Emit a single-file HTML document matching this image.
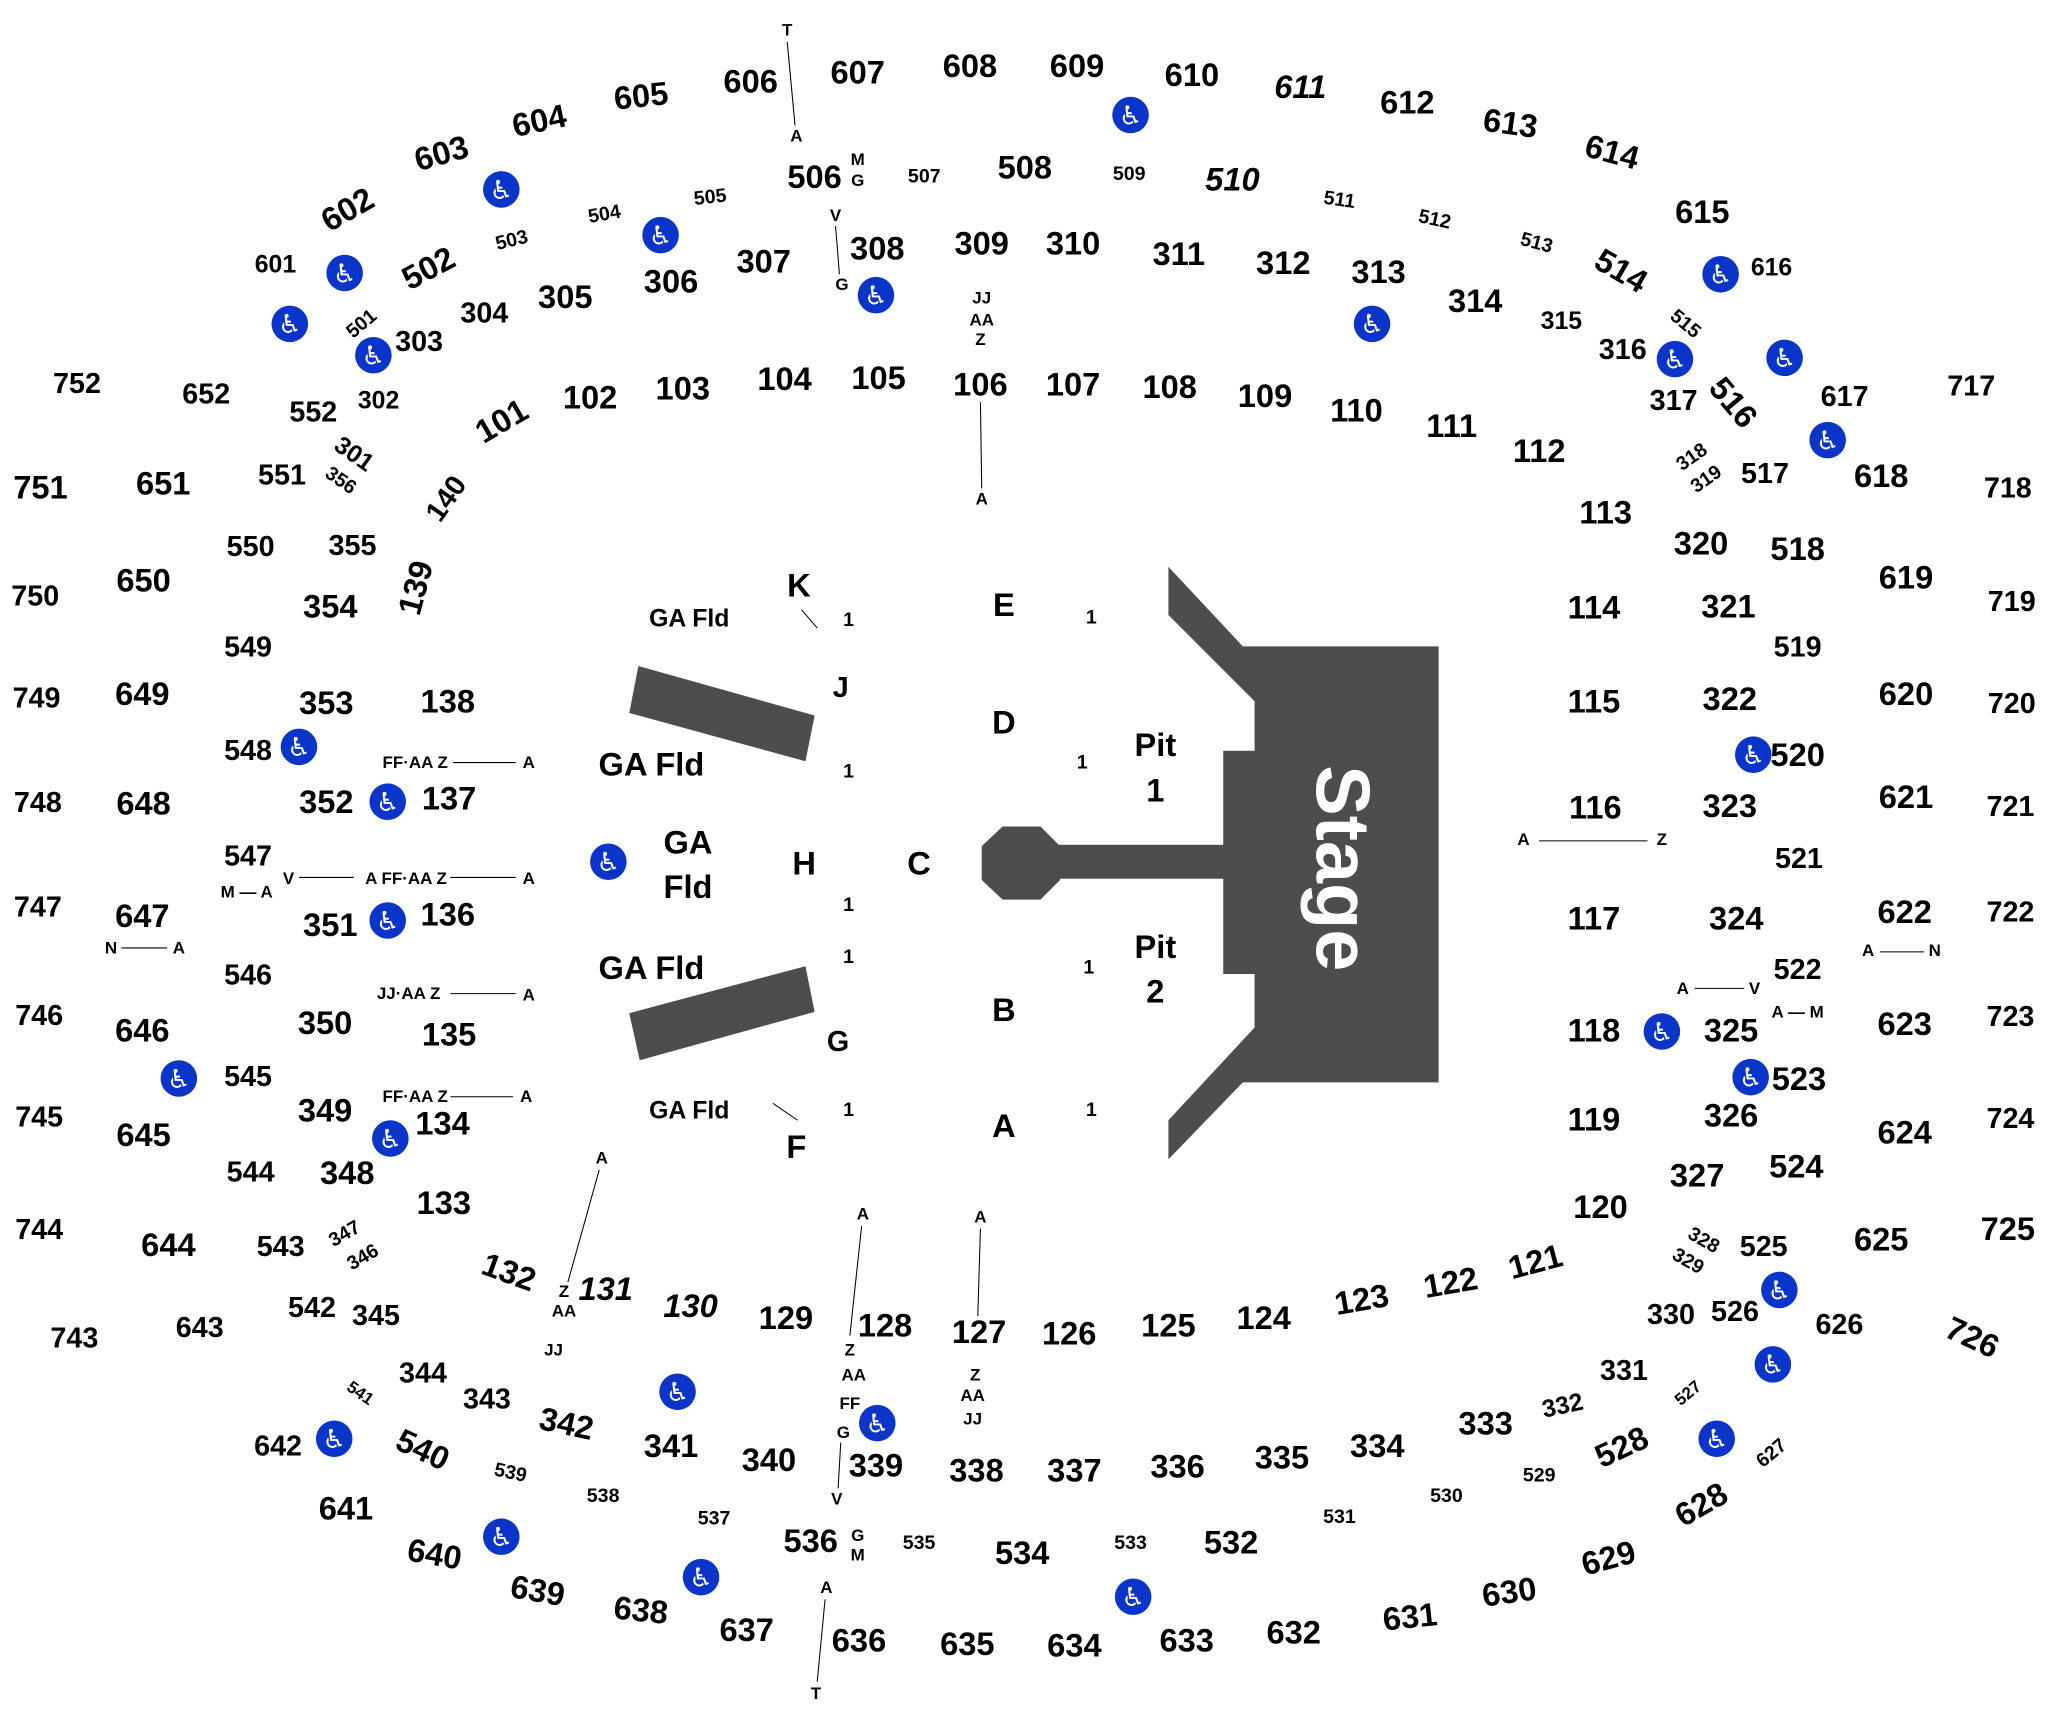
<!DOCTYPE html>
<html><head><meta charset="utf-8"><style>
html,body{margin:0;padding:0;background:#fff}
svg{display:block}
text{font-family:"Liberation Sans",Arial,sans-serif;font-weight:bold;fill:#000;text-anchor:middle;dominant-baseline:central}
.b{font-size:25px}.m{font-size:22px}.s{font-size:19px}.xs{font-size:15px}.t{font-size:13px}
.w circle{fill:#0a35c8}.w text{fill:#fff;font-size:20px;font-weight:normal;font-family:"DejaVu Sans",sans-serif}
line{stroke:#000;stroke-width:0.8}
</style></head><body>
<svg width="2047" height="1717" viewBox="0 0 1568 1315" xmlns="http://www.w3.org/2000/svg">
<defs><g id="wc"><circle r="14" fill="#0a35c8"/><text x="0" y="1" style="fill:#fff;font-size:20px;font-weight:normal;font-family:'DejaVu Sans',sans-serif">♿</text></g></defs>
<!-- stage -->
<polygon fill="#4d4d4d" points="895,434 952,495 1102,495 1102,829 952,829 895,888 895,858 961,787 961,746 937,746 937,575 961,575 961,537 895,471"/>
<rect x="805" y="647" width="135" height="26" fill="#4d4d4d"/>
<polygon fill="#4d4d4d" points="768,633 797,633 812,648 812,674 797,689 768,689 752,674 752,648"/>
<text x="1028" y="665" transform="rotate(90 1028 665)" style="font-size:58px;fill:#fff">Stage</text>
<polygon fill="#4d4d4d" points="489,510 624,548 617,583 482,546"/>
<polygon fill="#4d4d4d" points="482,776 617,740 624,775 490,812"/>
<!-- floor -->
<text class="b" x="612" y="448">K</text><text class="xs" x="650" y="475">1</text><line x1="614" y1="467" x2="626" y2="481"/>
<text class="b" x="769" y="463">E</text><text class="xs" x="836" y="473">1</text>
<text class="s" x="528" y="474">GA Fld</text>
<text class="m" x="644" y="527">J</text>
<text class="b" x="769" y="553">D</text><text class="xs" x="829" y="584">1</text>
<text class="b" x="885" y="570">Pit</text><text class="b" x="885" y="605">1</text>
<text class="b" x="499" y="585">GA Fld</text><text class="xs" x="650" y="591">1</text>
<text class="b" x="527" y="645">GA</text><text class="b" x="527" y="679">Fld</text>
<text class="b" x="616" y="661">H</text><text class="b" x="704" y="661">C</text>
<text class="xs" x="650" y="693">1</text><text class="xs" x="650" y="733">1</text>
<text class="b" x="885" y="725">Pit</text><text class="b" x="885" y="759">2</text><text class="xs" x="834" y="741">1</text>
<text class="b" x="499" y="741">GA Fld</text>
<text class="b" x="769" y="773">B</text><text class="m" x="642" y="798">G</text>
<text class="s" x="528" y="851">GA Fld</text><line x1="592" y1="845" x2="611" y2="858"/>
<text class="xs" x="650" y="850">1</text><text class="b" x="769" y="862">A</text><text class="xs" x="836" y="850">1</text>
<text class="b" x="610" y="878">F</text>
<!-- wheelchairs -->
<use href="#wc" x="866" y="88"/><use href="#wc" x="384" y="145"/><use href="#wc" x="506" y="180"/><use href="#wc" x="264" y="209"/>
<use href="#wc" x="222" y="248"/><use href="#wc" x="286" y="272"/><use href="#wc" x="671" y="226"/><use href="#wc" x="1051" y="248"/>
<use href="#wc" x="1318" y="210"/><use href="#wc" x="1283" y="275"/><use href="#wc" x="1367" y="274"/><use href="#wc" x="1400" y="337"/>
<use href="#wc" x="229" y="572"/><use href="#wc" x="297" y="614"/><use href="#wc" x="466" y="660"/><use href="#wc" x="297" y="705"/>
<use href="#wc" x="137" y="826"/><use href="#wc" x="299" y="872"/><use href="#wc" x="1343" y="578"/><use href="#wc" x="1273" y="790"/>
<use href="#wc" x="1341" y="825"/><use href="#wc" x="1363" y="988"/><use href="#wc" x="1358" y="1045"/><use href="#wc" x="1315" y="1102"/>
<use href="#wc" x="519" y="1066"/><use href="#wc" x="672" y="1090"/><use href="#wc" x="256" y="1102"/><use href="#wc" x="384" y="1177"/>
<use href="#wc" x="537" y="1208"/><use href="#wc" x="868" y="1223"/>
<!-- top rows -->
<text class="t" x="603" y="23">T</text><line x1="603" y1="32" x2="609" y2="96"/><text class="t" x="610" y="104">A</text>
<text class="b" x="575" y="62">606</text><text class="b" x="657" y="55">607</text><text class="b" x="743" y="50">608</text><text class="b" x="825" y="50">609</text>
<text class="b" x="913" y="57">610</text><text class="b" x="996" y="66" font-style="italic">611</text><text class="b" x="1078" y="78">612</text><text class="b" x="1157" y="94" transform="rotate(8 1157 94)">613</text>
<text class="b" x="1235" y="116" transform="rotate(15 1235 116)">614</text><text class="b" x="1304" y="162">615</text><text class="s" x="1357" y="205">616</text>
<text class="b" x="491" y="73" transform="rotate(-6 491 73)">605</text><text class="b" x="413" y="92" transform="rotate(-12 413 92)">604</text><text class="b" x="338" y="117" transform="rotate(-16 338 117)">603</text>
<text class="b" x="266" y="160" transform="rotate(-30 266 160)">602</text><text class="s" x="211" y="203">601</text>
<text class="b" x="624" y="135">506</text><text class="t" x="657" y="122">M</text><text class="t" x="657" y="138">G</text><text class="xs" x="708" y="135">507</text>
<text class="b" x="785" y="128">508</text><text class="xs" x="865" y="133">509</text><text class="b" x="944" y="137" font-style="italic">510</text>
<text class="xs" x="1026" y="153" transform="rotate(8 1026 153)">511</text><text class="xs" x="1099" y="168" transform="rotate(12 1099 168)">512</text><text class="xs" x="1177" y="186" transform="rotate(15 1177 186)">513</text>
<text class="b" x="1242" y="207" transform="rotate(30 1242 207)">514</text><text class="xs" x="1291" y="248" transform="rotate(40 1291 248)">515</text>
<text class="b" x="1328" y="308" transform="rotate(50 1328 308)">516</text><text class="m" x="1413" y="304">617</text><text class="b" x="1441" y="364">618</text>
<text class="m" x="1510" y="296">717</text><text class="m" x="1538" y="374">718</text>
<text class="xs" x="544" y="151" transform="rotate(-6 544 151)">505</text><text class="xs" x="463" y="164" transform="rotate(-10 463 164)">504</text><text class="xs" x="392" y="184" transform="rotate(-14 392 184)">503</text>
<text class="b" x="328" y="205" transform="rotate(-28 328 205)">502</text><text class="xs" x="277" y="248" transform="rotate(-40 277 248)">501</text>
<text class="t" x="640" y="165">V</text><line x1="640" y1="173" x2="643" y2="210"/><text class="t" x="645" y="218">G</text>
<text class="b" x="672" y="190">308</text><text class="b" x="752" y="186">309</text><text class="b" x="822" y="186">310</text><text class="b" x="903" y="194">311</text>
<text class="b" x="983" y="201">312</text><text class="b" x="1056" y="208">313</text><text class="b" x="1130" y="230">314</text><text class="s" x="1196" y="246">315</text>
<text class="m" x="1243" y="268">316</text><text class="m" x="1282" y="307">317</text>
<text class="b" x="585" y="200">307</text><text class="b" x="514" y="215">306</text><text class="b" x="433" y="227">305</text><text class="m" x="371" y="240">304</text><text class="m" x="321" y="262">303</text>
<text class="s" x="290" y="307">302</text><text class="s" x="271" y="348" transform="rotate(35 271 348)">301</text><text class="xs" x="261" y="368" transform="rotate(35 261 368)">356</text>
<text class="t" x="752" y="228">JJ</text><text class="t" x="752" y="245">AA</text><text class="t" x="751" y="260">Z</text><line x1="751" y1="308" x2="752" y2="374"/><text class="t" x="752" y="382">A</text>
<text class="b" x="601" y="290">104</text><text class="b" x="673" y="289">105</text><text class="b" x="751" y="294">106</text><text class="b" x="822" y="294">107</text>
<text class="b" x="896" y="296">108</text><text class="b" x="969" y="303">109</text><text class="b" x="1039" y="314">110</text><text class="b" x="1112" y="326">111</text><text class="b" x="1179" y="345">112</text>
<text class="b" x="523" y="297">103</text><text class="b" x="452" y="304">102</text><text class="b" x="384" y="322" transform="rotate(-30 384 322)">101</text>
<text class="m" x="342" y="382" transform="rotate(-55 342 382)">140</text><text class="b" x="318" y="450" transform="rotate(-75 318 450)">139</text>
<text class="m" x="59" y="294">752</text><text class="m" x="158" y="302">652</text><text class="m" x="240" y="316">552</text>
<text class="b" x="31" y="373">751</text><text class="b" x="125" y="370">651</text><text class="m" x="216" y="364">551</text>
<text class="m" x="192" y="419">550</text><text class="m" x="270" y="418">355</text><text class="b" x="110" y="444">650</text><text class="m" x="27" y="457">750</text>
<text class="b" x="253" y="464">354</text><text class="m" x="190" y="496">549</text>
<text class="m" x="28" y="535">749</text><text class="b" x="109" y="531">649</text><text class="b" x="250" y="538">353</text><text class="b" x="343" y="537">138</text>
<text class="m" x="190" y="575">548</text><text class="t" x="318" y="584">FF·AA Z</text><line x1="347" y1="584" x2="395" y2="584"/><text class="t" x="405" y="584">A</text>
<text class="m" x="29" y="615">748</text><text class="b" x="110" y="615">648</text><text class="b" x="250" y="614">352</text><text class="b" x="344" y="611">137</text>
<text class="m" x="190" y="656">547</text><text class="t" x="221" y="673">V</text><line x1="229" y1="672" x2="271" y2="672"/><text class="t" x="311" y="673">A FF·AA Z</text><line x1="345" y1="672" x2="395" y2="672"/><text class="t" x="405" y="673">A</text>
<text class="t" x="189" y="683">M — A</text>
<text class="m" x="29" y="695">747</text><text class="b" x="109" y="701">647</text><text class="b" x="253" y="708">351</text><text class="b" x="343" y="700">136</text>
<text class="t" x="85" y="726">N</text><line x1="93" y1="726" x2="128" y2="726"/><text class="t" x="137" y="726">A</text>
<text class="m" x="190" y="747">546</text><text class="t" x="313" y="761">JJ·AA Z</text><line x1="345" y1="761" x2="395" y2="761"/><text class="t" x="405" y="762">A</text>
<text class="m" x="30" y="778">746</text><text class="b" x="109" y="789">646</text><text class="b" x="249" y="783">350</text><text class="b" x="344" y="792">135</text>
<text class="m" x="190" y="825">545</text><text class="t" x="318" y="840">FF·AA Z</text><line x1="345" y1="840" x2="393" y2="840"/><text class="t" x="403" y="840">A</text>
<text class="m" x="30" y="856">745</text><text class="b" x="110" y="869">645</text><text class="b" x="249" y="850">349</text><text class="b" x="339" y="860">134</text>
<text class="m" x="192" y="898">544</text><text class="b" x="266" y="898">348</text><text class="b" x="340" y="921">133</text>
<text class="m" x="30" y="942">744</text><text class="b" x="129" y="953">644</text><text class="m" x="215" y="955">543</text>
<text class="xs" x="264" y="945" transform="rotate(-30 264 945)">347</text><text class="xs" x="278" y="963" transform="rotate(-30 278 963)">346</text>
<text class="b" x="390" y="974" transform="rotate(20 390 974)">132</text><text class="b" x="464" y="987" font-style="italic">131</text><text class="b" x="529" y="1000" font-style="italic">130</text><text class="b" x="602" y="1009">129</text>
<text class="t" x="461" y="887">A</text><line x1="459" y1="896" x2="435" y2="982"/><text class="t" x="432" y="989">Z</text><text class="t" x="432" y="1004">AA</text><text class="t" x="424" y="1034">JJ</text>
<text class="m" x="57" y="1025">743</text><text class="m" x="153" y="1017">643</text><text class="m" x="239" y="1002">542</text><text class="m" x="288" y="1008">345</text>
<text class="m" x="324" y="1052">344</text><text class="m" x="373" y="1072">343</text><text class="b" x="434" y="1090" transform="rotate(12 434 1090)">342</text><text class="b" x="514" y="1107">341</text>
<text class="b" x="589" y="1118">340</text><text class="t" x="276" y="1067" transform="rotate(35 276 1067)">541</text>
<text class="m" x="213" y="1108">642</text><text class="b" x="324" y="1110" transform="rotate(25 324 1110)">540</text><text class="xs" x="391" y="1128" transform="rotate(12 391 1128)">539</text><text class="xs" x="462" y="1146">538</text><text class="xs" x="547" y="1163">537</text>
<text class="b" x="265" y="1155">641</text><text class="b" x="333" y="1190" transform="rotate(10 333 1190)">640</text><text class="b" x="412" y="1218" transform="rotate(10 412 1218)">639</text>
<text class="b" x="491" y="1233" transform="rotate(6 491 1233)">638</text><text class="b" x="572" y="1248">637</text><text class="b" x="658" y="1256">636</text><text class="b" x="741" y="1259">635</text>
<text class="b" x="823" y="1260">634</text><text class="b" x="909" y="1256">633</text><text class="b" x="991" y="1250">632</text><text class="b" x="1080" y="1238" transform="rotate(-6 1080 1238)">631</text>
<text class="b" x="1156" y="1219" transform="rotate(-8 1156 1219)">630</text><text class="b" x="1232" y="1193" transform="rotate(-15 1232 1193)">629</text><text class="b" x="1303" y="1152" transform="rotate(-30 1303 1152)">628</text>
<text class="xs" x="1357" y="1113" transform="rotate(-40 1357 1113)">627</text>
<text class="t" x="661" y="930">A</text><line x1="660" y1="939" x2="651" y2="1023"/><text class="t" x="651" y="1034">Z</text><text class="t" x="654" y="1053">AA</text><text class="t" x="651" y="1075">FF</text><text class="t" x="646" y="1097">G</text><line x1="644" y1="1105" x2="642" y2="1140"/><text class="t" x="641" y="1148">V</text>
<text class="b" x="678" y="1015">128</text><text class="b" x="750" y="1020">127</text><text class="b" x="819" y="1021">126</text><text class="b" x="895" y="1015">125</text><text class="b" x="968" y="1009">124</text>
<text class="b" x="1043" y="995" transform="rotate(-10 1043 995)">123</text><text class="b" x="1111" y="982" transform="rotate(-10 1111 982)">122</text><text class="b" x="1176" y="966" transform="rotate(-15 1176 966)">121</text>
<text class="t" x="751" y="932">A</text><line x1="751" y1="941" x2="749" y2="1008"/><text class="t" x="747" y="1053">Z</text><text class="t" x="745" y="1069">AA</text><text class="t" x="745" y="1087">JJ</text>
<text class="b" x="671" y="1122">339</text><text class="b" x="748" y="1126">338</text><text class="b" x="823" y="1126">337</text><text class="b" x="902" y="1123">336</text>
<text class="b" x="982" y="1116">335</text><text class="b" x="1055" y="1107">334</text><text class="b" x="1138" y="1090">333</text><text class="s" x="1197" y="1077" transform="rotate(-12 1197 1077)">332</text>
<text class="m" x="1244" y="1050">331</text><text class="t" x="1293" y="1067" transform="rotate(-40 1293 1067)">527</text><text class="b" x="1242" y="1108" transform="rotate(-25 1242 1108)">528</text>
<text class="xs" x="1179" y="1130">529</text><text class="xs" x="1108" y="1146">530</text><text class="xs" x="1026" y="1162">531</text><text class="b" x="943" y="1181">532</text><text class="xs" x="866" y="1182">533</text>
<text class="b" x="783" y="1189">534</text><text class="xs" x="704" y="1182">535</text><text class="b" x="621" y="1180">536</text><text class="t" x="657" y="1176">G</text><text class="t" x="657" y="1191">M</text>
<text class="t" x="633" y="1216">A</text><line x1="632" y1="1225" x2="626" y2="1288"/><text class="t" x="625" y="1297">T</text>
<!-- right side -->
<text class="xs" x="1296" y="350" transform="rotate(-35 1296 350)">318</text><text class="xs" x="1307" y="367" transform="rotate(-35 1307 367)">319</text>
<text class="m" x="1352" y="363">517</text><text class="b" x="1230" y="392">113</text><text class="b" x="1303" y="416">320</text><text class="b" x="1377" y="420">518</text>
<text class="b" x="1460" y="442">619</text><text class="m" x="1541" y="461">719</text>
<text class="b" x="1221" y="465">114</text><text class="b" x="1324" y="464">321</text><text class="m" x="1377" y="496">519</text>
<text class="b" x="1221" y="537">115</text><text class="b" x="1325" y="535">322</text><text class="b" x="1460" y="531">620</text><text class="m" x="1541" y="539">720</text>
<text class="b" x="1377" y="578">520</text>
<text class="b" x="1222" y="618">116</text><text class="b" x="1325" y="617">323</text><text class="b" x="1460" y="610">621</text><text class="m" x="1540" y="618">721</text>
<text class="t" x="1167" y="643">A</text><line x1="1179" y1="644" x2="1262" y2="644"/><text class="t" x="1273" y="643">Z</text>
<text class="m" x="1378" y="658">521</text><text class="b" x="1459" y="698">622</text><text class="m" x="1540" y="699">722</text>
<text class="b" x="1221" y="703">117</text><text class="b" x="1330" y="703">324</text>
<text class="t" x="1431" y="728">A</text><line x1="1440" y1="729" x2="1474" y2="729"/><text class="t" x="1482" y="728">N</text>
<text class="m" x="1377" y="743">522</text><text class="t" x="1289" y="757">A</text><line x1="1298" y1="757" x2="1336" y2="757"/><text class="t" x="1344" y="757">V</text>
<text class="t" x="1377" y="775">A — M</text>
<text class="b" x="1221" y="789">118</text><text class="b" x="1326" y="789">325</text><text class="b" x="1459" y="784">623</text><text class="m" x="1540" y="779">723</text>
<text class="b" x="1378" y="826">523</text><text class="b" x="1221" y="857">119</text><text class="b" x="1326" y="854">326</text><text class="b" x="1459" y="867">624</text><text class="m" x="1540" y="857">724</text>
<text class="b" x="1300" y="900">327</text><text class="b" x="1376" y="893">524</text><text class="b" x="1226" y="924">120</text>
<text class="xs" x="1305" y="950" transform="rotate(30 1305 950)">328</text><text class="xs" x="1293" y="966" transform="rotate(30 1293 966)">329</text>
<text class="m" x="1351" y="955">525</text><text class="b" x="1441" y="949">625</text><text class="b" x="1538" y="941">725</text>
<text class="m" x="1280" y="1007">330</text><text class="m" x="1329" y="1005">526</text><text class="m" x="1409" y="1015">626</text><text class="b" x="1511" y="1024" transform="rotate(25 1511 1024)">726</text>
</svg>
</body></html>
